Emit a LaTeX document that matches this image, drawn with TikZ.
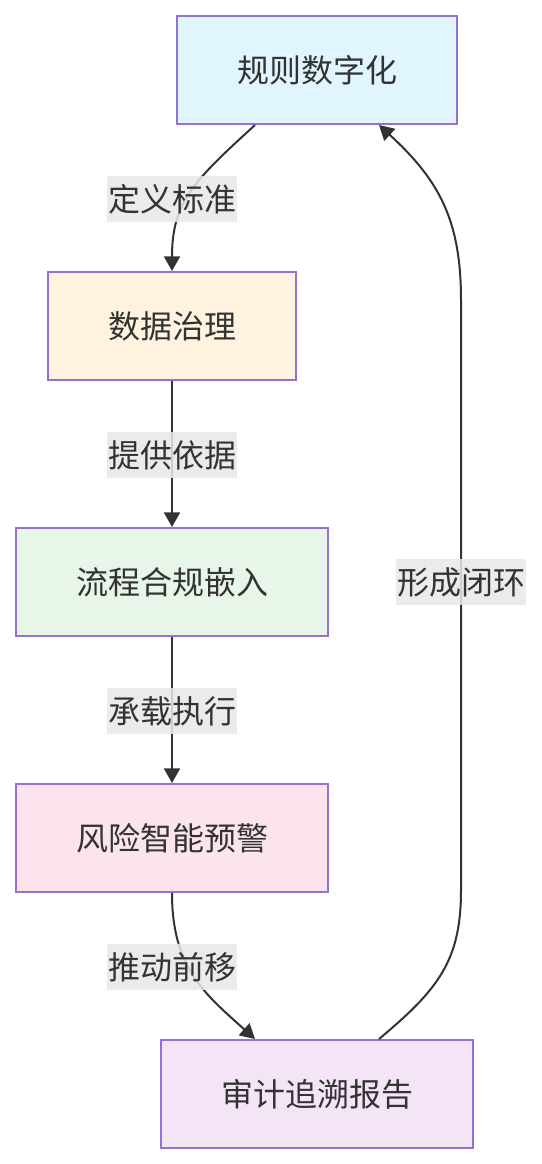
\documentclass[tikz,border=0pt]{standalone}
\usepackage{fontspec}
\newfontfamily\cjk{Noto Sans CJK SC}
\usetikzlibrary{arrows.meta}
\definecolor{edgecol}{HTML}{333333}
\definecolor{bordercol}{HTML}{9370DB}
\definecolor{lblbg}{HTML}{E8E8E8}
\definecolor{bluefill}{HTML}{E1F5FE}
\definecolor{orangefill}{HTML}{FFF3E0}
\definecolor{greenfill}{HTML}{E8F5E9}
\definecolor{pinkfill}{HTML}{FCE4EC}
\definecolor{purplefill}{HTML}{F3E5F5}

\begin{document}
\begin{tikzpicture}[
    x=0.75pt, y=-0.75pt,
    box/.style={rectangle, draw=bordercol, line width=1.5pt, minimum height=81pt, inner xsep=45pt, text=edgecol, font=\cjk\fontsize{24}{28}\selectfont},
    lbl/.style={rectangle, fill=lblbg, fill opacity=0.85, text opacity=1, text=edgecol, minimum height=35pt, inner xsep=1pt, font=\cjk\fontsize{24}{28}\selectfont},
    arrow/.style={-{Triangle[length=11pt,width=12pt]}, line width=1.5pt, draw=edgecol}
]
\useasboundingbox (0,0) rectangle (542,1164);

\node[box, fill=bluefill] (rule) at (317,70) {规则数字化};
\node[box, fill=orangefill] (data) at (172,326) {数据治理};
\node[box, fill=greenfill] (flow) at (172,582) {流程合规嵌入};
\node[box, fill=pinkfill] (risk) at (172,838) {风险智能预警};
\node[box, fill=purplefill] (audit) at (317,1094) {审计追溯报告};

\draw[arrow] ([xshift=-46.5pt]rule.south) .. controls +(-60,55) and +(0,-70) .. (data.north);
\draw[arrow] (data) -- (flow);
\draw[arrow] (flow) -- (risk);
\draw[arrow] (risk.south) .. controls +(0,75) and +(-50,-45) .. ([xshift=-46.5pt]audit.north);
\draw[arrow] ([xshift=46.5pt]audit.north) .. controls +(60,-50) and +(0,70) .. (461,890)
    -- (461,300) .. controls +(0,-80) and +(60,55) .. ([xshift=46.5pt]rule.south);

\node[lbl] (l1) at (172,199) {定义标准};
\node[lbl] (l2) at (172,455) {提供依据};
\node[lbl] (l3) at (172,711) {承载执行};
\node[lbl] (l4) at (172,967) {推动前移};
\node[lbl] (l5) at (461,582) {形成闭环};
\end{tikzpicture}
\end{document}
